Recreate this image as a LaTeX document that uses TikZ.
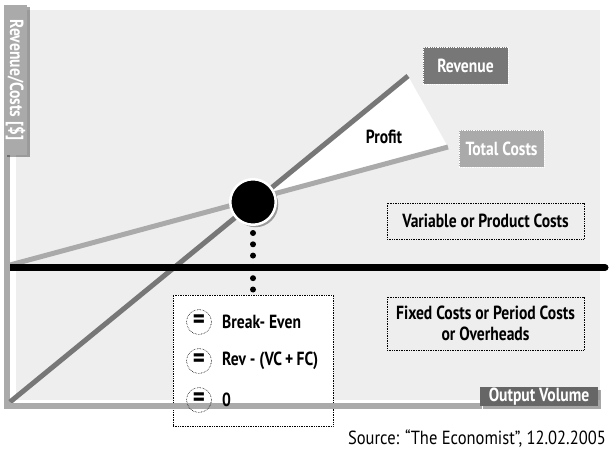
\documentclass[tikz,border=0pt]{standalone}
\usepackage{fontspec}
\setmainfont{PT Sans}[FakeStretch=0.82]
\newfontfamily\srcfont{PT Sans}[FakeStretch=0.87]
\usetikzlibrary{shadows}
\definecolor{bggray}{HTML}{EEEEEE}
\definecolor{lgray}{HTML}{AAAAAA}
\definecolor{dgray}{HTML}{777777}
\definecolor{ogray}{HTML}{666666}
\tikzset{
  lab/.style={font=\fontsize{19}{21}\selectfont\bfseries},
  dotbox/.style={draw=black, line width=0.7pt, densely dotted, inner sep=0pt, align=center, lab},
  tagbox/.style={draw=white, line width=0.8pt, densely dotted, inner sep=0pt, text=white, lab},
  eqcirc/.style={circle, draw=black, line width=0.6pt, densely dotted, minimum size=25pt, inner sep=0pt, font=\fontsize{28}{28}\selectfont\bfseries},
  eqtext/.style={anchor=west, inner sep=0pt, lab},
  axisbar/.style={fill=lgray},
  costline/.style={line width=5pt, lgray},
  revline/.style={line width=5pt, dgray},
  fixline/.style={line width=7pt, black},
  dotline/.style={line width=6pt, line cap=round, dash pattern=on 0pt off 11.3pt, black},
  shad/.style={drop shadow={shadow xshift=2.5pt, shadow yshift=-2.5pt, opacity=0.35, fill=black}}
}
\begin{document}
\begin{tikzpicture}[x=1pt,y=-1pt]
\useasboundingbox (0,0) rectangle (610,449);
% background
\fill[bggray] (16,10) rectangle (600,400);
% y axis bar
\fill[axisbar] (4,150) rectangle (10,409);
% coordinates
\coordinate (rstart) at (10,402);
\coordinate (rend) at (408,76);
\coordinate (cstart) at (10,265);
\coordinate (cend) at (448,147);
\coordinate (fstart) at (10,267.5);
\coordinate (fend) at (605,267.5);
\coordinate (bepc) at (253,202);
% profit wedge
\fill[white] (bepc) -- (rend) -- (cend) -- cycle;
% lines
\draw[costline] (cstart) -- (cend);
\draw[revline] (rstart) -- (rend);
\draw[fixline] (fstart) -- (fend);
\fill[black] (fend) circle (3.5pt);
% break-even box
\node[dotbox, fill=white, minimum width=160pt, minimum height=131pt] (be) at (253,360.5) {};
% x axis bar
\fill[axisbar] (4,403) rectangle (482,409);
% equations
\node[eqcirc] (e1) at (199,322) {=};
\node[eqcirc] (e2) at (199,361) {=};
\node[eqcirc] (e3) at (199,400) {=};
\node[eqtext] (t1) at (222,322) {Break- Even};
\node[eqtext] (t2) at (222,361) {Rev - (VC\,+\,FC)};
\node[eqtext] (t3) at (222,400) {0};
% break-even point
\node[circle, fill=black, draw=white, line width=2.5pt, minimum size=45.5pt, inner sep=0pt, shad] (bep) at (bepc) {};
\coordinate (dtop) at (253,233);
\draw[dotline] (dtop) -- ([yshift=4pt]be.north);
% boxes
\node[dotbox, minimum width=197pt, minimum height=36pt] (vc) at (485.5,221) {Variable or Product Costs};
\node[dotbox, minimum width=197pt, minimum height=53pt] (fc) at (485.5,323.5) {Fixed Costs or Period Costs\\or Overheads};
\node[tagbox, fill=dgray, minimum width=85pt, minimum height=37pt] (rev) at (465.5,65.5) {Revenue};
\node[tagbox, fill=lgray, minimum width=85pt, minimum height=37pt] (tc) at (501.5,148.5) {Total Costs};
\node[fill=ogray, text=white, inner sep=0pt, minimum width=118pt, minimum height=19pt, lab, shad] (ov) at (539,396.5) {Output Volume};
\node[fill=lgray, text=white, inner sep=0pt, minimum width=150pt, minimum height=23pt, rotate=-90, lab, shad] (yl) at (15.5,80) {Revenue/Costs [\$]};
\node[lab, inner sep=0pt] (pr) at (384,137) {Profit};
\node[anchor=base east, inner sep=0pt, font=\fontsize{19}{21}\selectfont\srcfont] (src) at (606,444) {Source: “The Economist”, 12.02.2005};
\end{tikzpicture}
\end{document}
